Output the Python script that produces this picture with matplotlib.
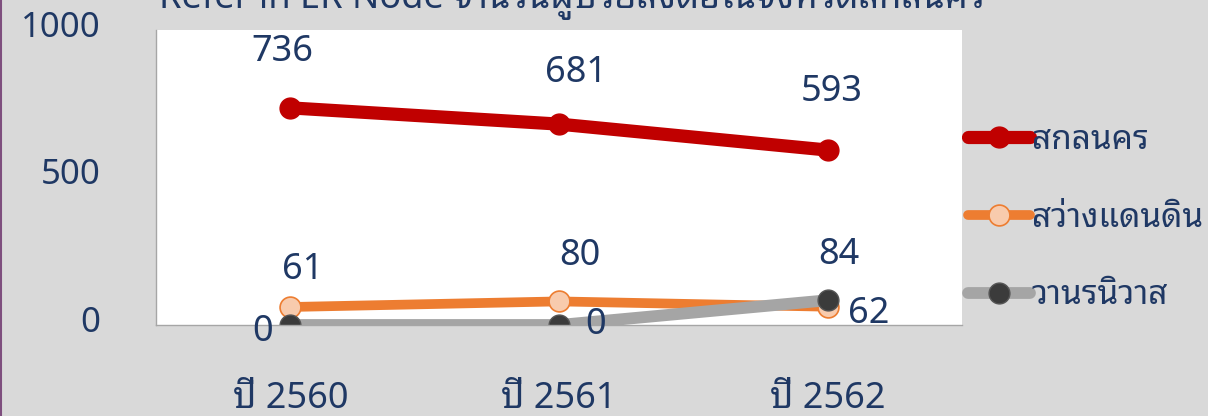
import matplotlib
matplotlib.use("Agg")
import matplotlib.pyplot as plt
from matplotlib.lines import Line2D
from matplotlib.transforms import ScaledTranslation

plt.rcParams['font.family'] = ['Noto Sans Thai Looped', 'Noto Sans', 'DejaVu Sans']

# data
years = ['ปี 2560', 'ปี 2561', 'ปี 2562']
sakon = [736, 681, 593]
sawang = [61, 80, 62]
wanon = [0, 0, 84]
series_names = ['สกลนคร', 'สว่างแดนดิน', 'วานรนิวาส']
y_ticks = [0, 500, 1000]

navy = '#1F3864'
bg = '#D9D9D9'

fig = plt.figure(figsize=(12.08, 4.16), dpi=100, facecolor=bg)
ax = fig.add_axes([156 / 1208, 91 / 416, 806 / 1208, 295 / 416])
ax.set_facecolor('white')

x = range(len(years))
ax.plot(x, sakon, color='#C00000', lw=9.5, marker='o', ms=15,
        mfc='#C00000', mec='#C00000', solid_capstyle='round', label=series_names[0])
ax.plot(x, sawang, color='#ED7D31', lw=7, marker='o', ms=15,
        mfc='#F8CBAD', mec='#ED7D31', mew=1.2, solid_capstyle='round', label=series_names[1])
ax.plot(x, wanon, color='#A5A5A5', lw=8.5, marker='o', ms=15,
        mfc='#3B3B3B', mec='#555555', mew=1, solid_capstyle='round', label=series_names[2])

# value labels, offsets in pixels
red_off = [(-8, 56), (17, 51), (4, 58)]
orange_off = [(12, 37), (21, 45), (41, -7)]
gray_off = [(-28, -7), (37, 0), (11, 45)]
for vals, offs in ((sakon, red_off), (sawang, orange_off), (wanon, gray_off)):
    for i, (v, o) in enumerate(zip(vals, offs)):
        ax.annotate(str(v), (i, v), xytext=o, textcoords='offset pixels',
                    ha='center', va='center', fontsize=26, color=navy,
                    annotation_clip=False)

ax.set_xlim(-0.5, 2.5)
ax.set_ylim(0, 1000)
ax.set_xticks(list(x))
ax.set_xticklabels(years)
ax.set_yticks(y_ticks)
ax.tick_params(axis='both', length=0, labelcolor=navy)
ax.tick_params(axis='y', pad=40, labelsize=25)
ax.tick_params(axis='x', pad=40, labelsize=26)
lift = ScaledTranslation(0, 0.06, fig.dpi_scale_trans)
for lab in ax.get_yticklabels():
    lab.set_transform(lab.get_transform() + lift)
for s in ('top', 'right'):
    ax.spines[s].set_visible(False)
for s in ('left', 'bottom'):
    ax.spines[s].set_color('#A6A6A6')
    ax.spines[s].set_linewidth(1)

leg = fig.legend(loc='upper left', bbox_to_anchor=(968 / 1208, 1 - 124 / 416),
                 frameon=False, prop={'size': 24, 'weight': 'bold'},
                 handlelength=1.86, handletextpad=0.05,
                 labelspacing=1.34, borderpad=0, borderaxespad=0)
for t in leg.get_texts():
    t.set_color(navy)

fig.text(572 / 1208, 1 - 8 / 416, 'Refer in ER Node จำนวนผู้ป่วยส่งต่อในจังหวัดสกลนคร',
         ha='center', va='baseline', fontsize=26, color=navy)

# border on the left edge
fig.add_artist(Line2D([0.001, 0.001], [0, 1], transform=fig.transFigure,
                      color='#7E4F7E', lw=1.5))

fig.savefig('out.png', dpi=100, facecolor=bg)
